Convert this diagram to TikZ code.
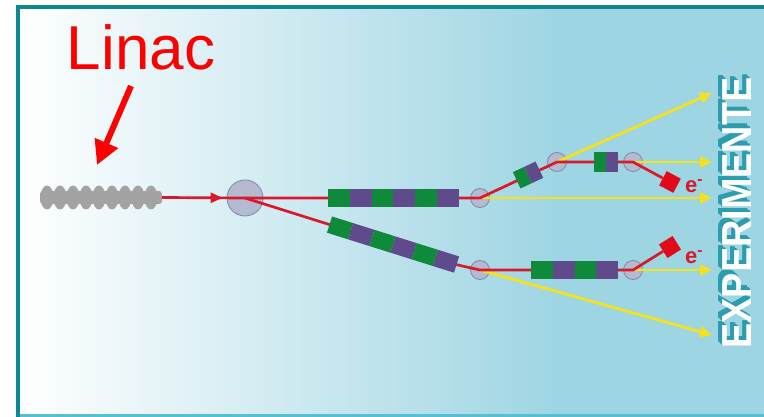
\documentclass[tikz,border=0pt]{standalone}
\usepackage{graphicx}
\usepackage{fontspec}
\setmainfont{Liberation Sans}
\usetikzlibrary{arrows.meta,positioning,decorations.markings}

\definecolor{frameteal}{HTML}{0E8794}
\definecolor{bottomteal}{HTML}{58BFD0}
\definecolor{bgblue}{HTML}{9ED5E3}
\definecolor{beamred}{HTML}{D7192B}
\definecolor{xrayyellow}{HTML}{F4E21E}
\definecolor{portgray}{HTML}{B4BBD1}
\definecolor{portedge}{HTML}{7C88A6}
\definecolor{dipgreen}{HTML}{0E8A3A}
\definecolor{dippurple}{HTML}{5F4A8B}
\definecolor{linacgray}{HTML}{A3A3A3}
\definecolor{shadeteal}{HTML}{2C9DAE}
\definecolor{targetred}{HTML}{E00A1A}

\tikzset{
  beam/.style={draw=beamred, line width=2.7pt, line join=round},
  photon/.style={draw=xrayyellow, line width=2.8pt, -{Triangle[length=12pt,width=11pt]}},
  port/.style={circle, draw=portedge, fill=portgray, line width=0.8pt, minimum size=19pt, inner sep=0pt},
  target/.style={rectangle, fill=targetred, minimum size=16pt, inner sep=0pt},
  elabel/.style={text=beamred, font=\bfseries\fontsize{22}{22}\selectfont},
  exptext/.style={rotate=90, font=\bfseries\fontsize{42}{42}\selectfont},
  pointer/.style={draw=red, line width=6pt, -{Triangle[length=24pt,width=24pt]}},
}

% #1 green/purple pairs, #2 segment length, #3 height
\newcommand{\dipolechain}[3]{%
  \foreach \k in {1,...,#1} {
    \fill[dipgreen] ({2*#2*(\k-1)},{-#3/2}) rectangle ++(#2,#3);
    \fill[dippurple] ({2*#2*(\k-1)+#2},{-#3/2}) rectangle ++(#2,#3);
  }%
}

\begin{document}
\begin{tikzpicture}[x=1pt,y=-1pt]
  \useasboundingbox (0,0) rectangle (764,417);

  % background and frame
  \fill[white] (0,0) rectangle (764,417);
  \shade[left color=white, right color=bgblue] (20,9) rectangle (560,417);
  \fill[bgblue] (559.5,9) rectangle (764,417);
  \fill[frameteal] (16,5) rectangle (764,9);
  \fill[frameteal] (16,5) rectangle (20,417);
  \fill[bottomteal] (20,414) rectangle (764,417);

  % title and pointer
  \node[text=red, font=\fontsize{62}{62}\selectfont, anchor=base] (title) at (141,70) {Linac};
  \coordinate (ptail) at (131,86);
  \coordinate (phead) at (97,165);
  \draw[pointer] (ptail) -- (phead);

  % linac cavities
  \fill[linacgray, rounded corners=3pt] (40,191) rectangle (162,204);
  \foreach \k in {0,...,8}
    \fill[linacgray] ({47+13*\k},197.5) ellipse (6.5 and 12);
  \coordinate (linac) at (162,197.5);

  % undulators and beam splitter
  \node[port, minimum size=36pt] (split) at (245,198) {};
  \node[port] (u1) at (480,198) {};
  \node[port] (u2) at (557,162) {};
  \node[port] (u3) at (633,162) {};
  \node[port] (l1) at (480,270) {};
  \node[port] (l2) at (633,270) {};
  \coordinate (bend) at (458,265);

  % targets
  \node[target, rotate=-28] (tu) at (670,182) {};
  \node[target, rotate=32] (tl) at (670,247) {};

  % x-ray lines to the experiments
  \coordinate (xa) at (712,93);
  \coordinate (xb) at (712,162);
  \coordinate (xc) at (712,198);
  \coordinate (xd) at (712,270);
  \coordinate (xe) at (712,335);
  \draw[photon] (u2.center) -- (xa);
  \draw[photon] (u3.center) -- (xb);
  \draw[photon] (u1.center) -- (xc);
  \draw[photon] (l2.center) -- (xd);
  \draw[photon] (l1.center) -- (xe);

  % electron beam
  \draw[beam, postaction=decorate, decoration={markings,
      mark=at position 0.73 with {\arrow{Triangle[length=12pt,width=10pt]}}}]
    (linac) -- (split.center);
  \draw[beam] (split.center) -- (u1.center) -- (u2.center) -- (u3.center) -- (tu);
  \draw[beam] (split.center) -- (bend) -- (l1.center) -- (l2.center) -- (tl);

  % dipole magnets
  \begin{scope}[shift={(328,198)}]
    \dipolechain{3}{21.8}{18}
  \end{scope}
  \begin{scope}[shift={(329.5,224.6)}, rotate=-17.46]
    \dipolechain{3}{22.2}{17}
  \end{scope}
  \begin{scope}[shift={(516.7,180.3)}, rotate=25]
    \dipolechain{1}{12.5}{18}
  \end{scope}
  \begin{scope}[shift={(594,162)}]
    \dipolechain{1}{12}{20}
  \end{scope}
  \begin{scope}[shift={(531,270)}]
    \dipolechain{2}{21.75}{17}
  \end{scope}

  % electron labels
  \node[elabel] (eu) at (694,186) {e\textsuperscript{-}};
  \node[elabel] (el) at (694,257) {e\textsuperscript{-}};

  % experiments, with a stepped shadow
  \foreach \s in {6,...,1}
    \node[exptext, text=shadeteal] at ({737-0.7*\s},{213-0.7*\s}) {\scalebox{0.9}[1]{EXPERIMENTE}};
  \node[exptext, text=white] (exp) at (737,213) {\scalebox{0.9}[1]{EXPERIMENTE}};
\end{tikzpicture}
\end{document}
